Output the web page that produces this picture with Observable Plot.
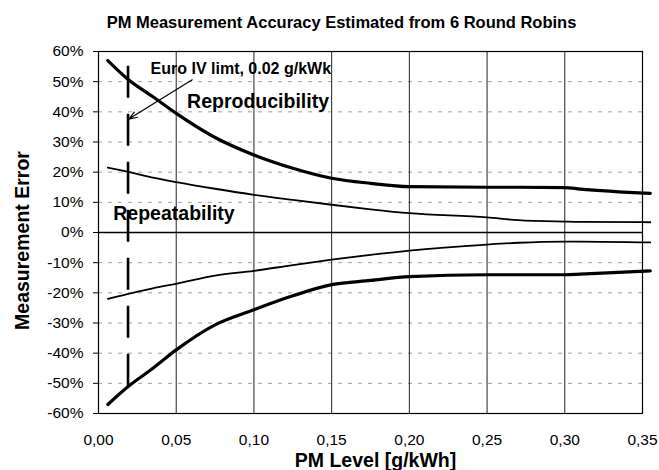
<!DOCTYPE html>
<html>
<head>
<meta charset="utf-8">
<script src="https://cdn.jsdelivr.net/npm/d3@7"></script>
<script src="https://cdn.jsdelivr.net/npm/@observablehq/plot@0.6"></script>
<style>
  html, body { margin: 0; padding: 0; background: #fff; }
  #chart svg { display: block; }
</style>
</head>
<body>
<div id="chart"></div>
<script>
// PM level [g/kWh]
const pmLevel = [0.006, 0.0185, 0.035, 0.05, 0.075, 0.10, 0.125, 0.15, 0.175, 0.20, 0.25, 0.27, 0.30, 0.31, 0.355];
// Measurement error [%]
const reproUpper  = [57, 51, 45, 39.5, 31.5, 25.7, 21.3, 18, 16.3, 15.2, 15, 15, 14.9, 14.4, 13];
const repeatUpper = [21.5, 20.2, 18.2, 16.7, 14.5, 12.5, 10.8, 9.2, 7.7, 6.4, 5, 4.1, 3.6, 3.5, 3.4];
const repeatLower = [-22, -20.4, -18.5, -17, -14.3, -12.7, -10.8, -9, -7.4, -6, -4, -3.4, -3, -3, -3.3];
const reproLower  = [-57, -51.3, -45, -38.9, -30.6, -25.6, -21, -17.3, -15.9, -14.6, -14, -14, -14, -13.8, -12.7];

const xTicks = [0, 0.05, 0.10, 0.15, 0.20, 0.25, 0.30, 0.35];
const yTicks = [-60, -50, -40, -30, -20, -10, 0, 10, 20, 30, 40, 50, 60];

// Euro IV limit annotation (x position, error extent)
const limitX = [0.019];
const limitY = [-51, 56];
const arrowFrom = [0.0603, 50.6];
const arrowTo = [0.0195, 37.6];

const labelText = ["Euro IV limt, 0.02 g/kWk", "Reproducibility", "Repeatability"];
const labelX = [0.0335, 0.057, 0.0095];
const labelY = [54.3, 43.5, 6.3];
const labelSize = [16, 19.5, 19.5];

const mk = (ys) => pmLevel.map((x, i) => ({x, y: ys[i]}));
const labels = labelText.map((t, i) => ({t, x: labelX[i], y: labelY[i], s: labelSize[i]}));

const font = "'Liberation Sans', Arial, Helvetica, sans-serif";

const chart = Plot.plot({
  width: 659,
  height: 470,
  marginTop: 51,
  marginLeft: 98,
  marginRight: 17,
  marginBottom: 57,
  x: {domain: [0, 0.35]},
  y: {domain: [-60, 60]},
  style: {fontFamily: font, fontSize: "15.5px", color: "#000", background: "#fff"},
  marks: [
    Plot.gridY(yTicks, {stroke: "#777", strokeOpacity: 0.7, strokeDasharray: "4,6", strokeWidth: 1}),
    Plot.gridX(xTicks, {stroke: "#222", strokeOpacity: 1, strokeWidth: 1}),
    Plot.frame({stroke: "#000", strokeWidth: 1.2}),
    Plot.axisY(yTicks, {tickSize: 5, tickPadding: 10, tickFormat: d => d + "%", label: null, fontSize: 15.5}),
    Plot.axisX(xTicks, {tickSize: 0, tickPadding: 20, tickFormat: d => d.toFixed(2).replace(".", ","), label: null, fontSize: 15.5}),
    Plot.ruleY([0], {stroke: "#000", strokeWidth: 1.5}),
    Plot.line(mk(reproUpper), {x: "x", y: "y", stroke: "#000", strokeWidth: 3.2, curve: "monotone-x"}),
    Plot.line(mk(reproLower), {x: "x", y: "y", stroke: "#000", strokeWidth: 3.2, curve: "monotone-x"}),
    Plot.line(mk(repeatUpper), {x: "x", y: "y", stroke: "#000", strokeWidth: 1.8, curve: "monotone-x"}),
    Plot.line(mk(repeatLower), {x: "x", y: "y", stroke: "#000", strokeWidth: 1.8, curve: "monotone-x"}),
    Plot.ruleX(limitX.map(x => ({x, y1: limitY[0], y2: limitY[1]})), {x: "x", y1: "y1", y2: "y2", stroke: "#000", strokeWidth: 2.6, strokeDasharray: "32,16"}),
    Plot.arrow([{x1: arrowFrom[0], y1: arrowFrom[1], x2: arrowTo[0], y2: arrowTo[1]}], {x1: "x1", y1: "y1", x2: "x2", y2: "y2", stroke: "#000", strokeWidth: 1.2, headLength: 11, headAngle: 40}),
    Plot.text(labels, {x: "x", y: "y", text: "t", fontSize: d => d.s, fontWeight: "bold", textAnchor: "start", fill: "#000"}),
    Plot.text(["PM Measurement Accuracy Estimated from 6 Round Robins"], {frameAnchor: "top", lineAnchor: "middle", dy: -29, dx: -29, fontSize: 16.5, fontWeight: "bold", fill: "#000"}),
    Plot.text(["Measurement Error"], {frameAnchor: "left", rotate: -90, dx: -76, dy: 8, textAnchor: "middle", lineAnchor: "middle", fontSize: 19.5, fontWeight: "bold", fill: "#000"}),
    Plot.text(["PM Level [g/kWh]"], {frameAnchor: "bottom", lineAnchor: "middle", dy: 47, dx: 5, fontSize: 19.5, fontWeight: "bold", fill: "#000"})
  ]
});
document.getElementById("chart").append(chart);
</script>
</body>
</html>
